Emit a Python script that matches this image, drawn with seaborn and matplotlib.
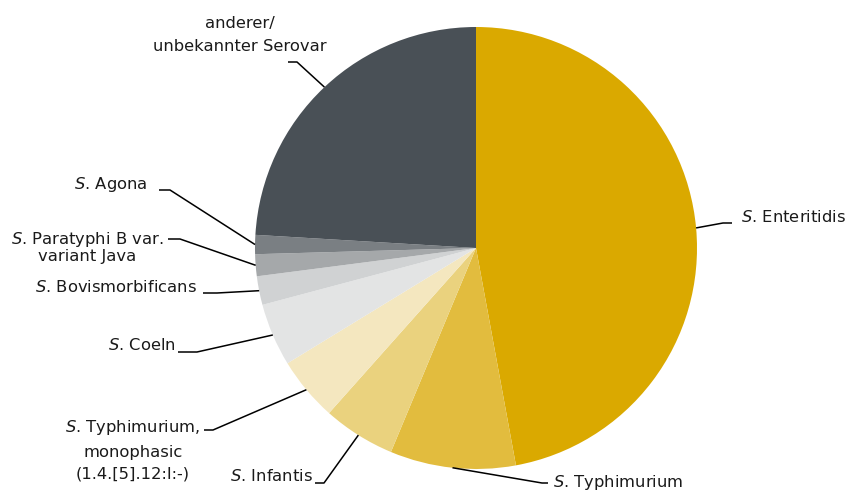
import numpy as np
import matplotlib
matplotlib.use("Agg")
import matplotlib.pyplot as plt
import seaborn as sns

# Anteile der Serovare (%), im Uhrzeigersinn ab 12 Uhr
serovare = [
    r"$\mathit{S}$. Enteritidis",
    r"$\mathit{S}$. Typhimurium",
    r"$\mathit{S}$. Infantis",
    "$\\mathit{S}$. Typhimurium,\nmonophasic\n(1.4.[5].12:I:-)",
    r"$\mathit{S}$. Coeln",
    r"$\mathit{S}$. Bovismorbificans",
    "$\\mathit{S}$. Paratyphi B var.\nvariant Java",
    r"$\mathit{S}$. Agona",
    "anderer/\nunbekannter Serovar",
]
anteile = [47.2, 9.2, 5.3, 4.7, 4.6, 2.1, 1.6, 1.4, 24.1]
farben = ["#DAA900", "#E2BC3E", "#EAD27E", "#F4E7BF", "#E3E4E4",
          "#D0D2D3", "#A5A8AA", "#7A7F83", "#495056"]

sns.set_theme(style="white")
plt.rcParams["font.family"] = ["DejaVu Sans"]
plt.rcParams["mathtext.fontset"] = "dejavusans"

W, H = 848, 493
CX, CY, R = 476, 248, 221


def px(x, y):
    # Pixelkoordinaten -> Datenkoordinaten (Radius = 1)
    return (x - CX) / R, (CY - y) / R


# Beschriftungen: (Textpos x, y, ha, Zeilenabstand, Knick x, Linie y, Linienende x)
beschriftung = [
    (741, 217, "left", 1.2, 723, 223, 732),
    (553, 482, "left", 1.2, 542, 483, 548),
    (313, 476, "right", 1.2, 324, 483, 315),
    (133, 450, "center", 1.6, 213, 430, 204),
    (176, 345, "right", 1.2, 197, 352, 178),
    (197, 287, "right", 1.2, 217, 293, 203),
    (87, 247, "center", 1.05, 180, 239, 168),
    (147, 184, "right", 1.2, 170, 190, 159),
    (240, 35, "center", 1.6, 297, 62, 288),
]

fig = plt.figure(figsize=(W / 100, H / 100), dpi=100)
ax = fig.add_axes([0, 0, 1, 1])
wedges, _ = ax.pie(anteile, colors=farben, startangle=90, counterclock=False,
                   radius=1, center=(0, 0),
                   wedgeprops=dict(linewidth=0, antialiased=True))

for w, lab, (tx, ty, ha, ls, ex, ly, lx) in zip(wedges, serovare, beschriftung):
    mid = np.deg2rad((w.theta1 + w.theta2) / 2)
    ax0, ay0 = np.cos(mid), np.sin(mid)
    ex_d, ly_d = px(ex, ly)
    lx_d, _ = px(lx, ly)
    ax.plot([ax0, ex_d, lx_d], [ay0, ly_d, ly_d], color="black", lw=1.1,
            solid_capstyle="butt")
    x, y = px(tx, ty)
    ax.text(x, y, lab, ha=ha, va="center", fontsize=11.8, color="#1a1a1a",
            multialignment="center", linespacing=ls)

ax.set_xlim(-CX / R, (W - CX) / R)
ax.set_ylim(-(H - CY) / R, CY / R)
ax.set_aspect("equal")
ax.axis("off")

fig.savefig("out.png", dpi=100)
